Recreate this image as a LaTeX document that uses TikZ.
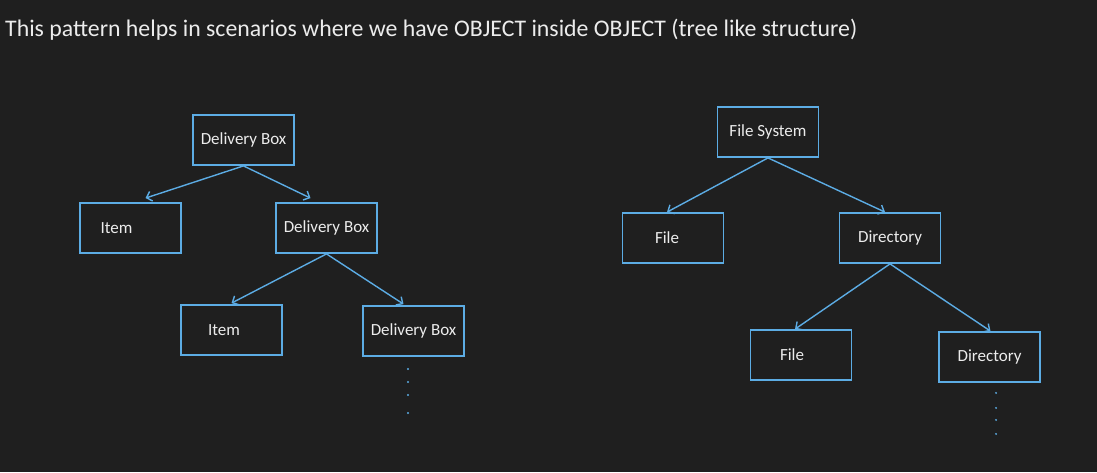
\documentclass[tikz,border=0pt]{standalone}
\usepackage{fontspec}
\setmainfont{Carlito}
\usepackage{xcolor}
\usetikzlibrary{arrows.meta, positioning}
\definecolor{bgdark}{RGB}{31, 31, 31}
\definecolor{boxblue}{RGB}{92, 172, 228}
\definecolor{txtlight}{RGB}{236, 236, 236}

\begin{document}
\begin{tikzpicture}[x=1pt, y=-1pt, >={Straight Barb[length=5pt, width=10pt]},
    box/.style={draw=boxblue, line width=1.8pt, minimum width=101pt, minimum height=50pt,
        text=txtlight, font=\fontsize{17}{20}\selectfont},
    leftbox/.style={box, align=left, text width=#1},
    link/.style={->, boxblue, line width=1.4pt}]
    % Background
    \fill[bgdark] (0,0) rectangle (1097,472);
    \useasboundingbox (0,0) rectangle (1097,472);

    % Heading
    \node[anchor=base west, inner sep=0pt, text=txtlight, font=\fontsize{23.8}{28}\selectfont] (heading) at (5,36)
        {This pattern helps in scenarios where we have OBJECT inside OBJECT (tree like structure)};

    % Delivery box tree
    \node[box] (dbox) at (243.5,140) {Delivery Box};
    \node[leftbox=60pt] (item) at (130.5,228) {Item};
    \node[box] (dboxb) at (326.5,228) {Delivery Box};
    \node[leftbox=47pt] (itemb) at (231.5,330) {Item};
    \node[box] (dboxc) at (413.5,331) {Delivery Box};
    \draw[link] (dbox.south) -- ([xshift=15pt, yshift=4pt]item.north);
    \draw[link] (dbox.south) -- ([xshift=-16pt, yshift=4pt]dboxb.north);
    \draw[link] (dboxb.south) -- ([yshift=1pt]itemb.north);
    \draw[link] (dboxb.south) -- ([xshift=-10pt, yshift=1pt]dboxc.north);
    \foreach \dy in {12,25,38,56}
        \fill[boxblue] ([xshift=-5.5pt, yshift=-\dy pt]dboxc.south) circle (1.1pt);

    % File system tree
    \node[box] (fsys) at (768,132) {File System};
    \node[leftbox=36pt] (file) at (673,238) {File};
    \node[box] (dir) at (890,238) {Directory};
    \node[leftbox=42pt] (fileb) at (801,355) {File};
    \node[box] (dirb) at (989.5,357) {Directory};
    \draw[link] (fsys.south) -- ([xshift=-6pt]file.north);
    \draw[link] (fsys.south) -- ([xshift=-5pt]dir.north);
    \draw[link] (dir.south) -- ([xshift=-6pt]fileb.north);
    \draw[link] (dir.south) -- ([xshift=1pt]dirb.north);
    \foreach \dy in {10,25,37,51}
        \fill[boxblue] ([xshift=6.5pt, yshift=-\dy pt]dirb.south) circle (1.1pt);
\end{tikzpicture}
\end{document}
